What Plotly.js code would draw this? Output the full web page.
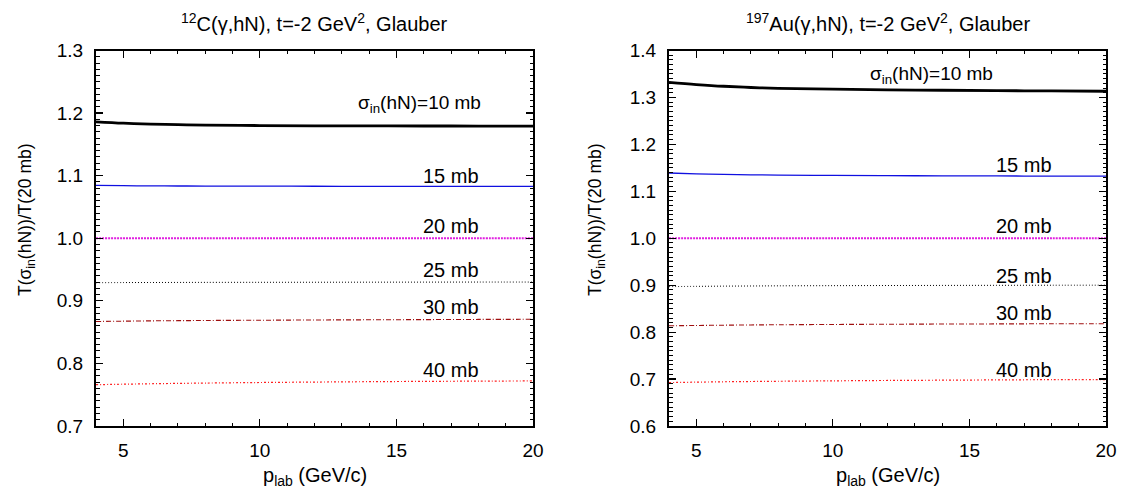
<!DOCTYPE html>
<html>
<head>
<meta charset="utf-8">
<script src="https://cdn.plot.ly/plotly-3.0.1.min.js"></script>
<style>html,body{margin:0;padding:0;background:#fff}#plot{width:1123px;height:491px}</style>
</head>
<body>
<div id="plot"></div>
<script>
// p_lab grid (GeV/c)
const pLab = [4, 5, 6, 7, 8, 10, 12, 14, 16, 18, 20];

// 12C panel: T(sigma_in)/T(20 mb)
const c12_10mb = [1.186, 1.1838, 1.1824, 1.1814, 1.1808, 1.1801, 1.1797, 1.1795, 1.1794, 1.1793, 1.1792];
const c12_15mb = [1.0845, 1.0840, 1.0837, 1.0835, 1.0834, 1.0832, 1.0831, 1.0830, 1.0829, 1.0828, 1.0828];
const c12_20mb = [1.0, 1.0, 1.0, 1.0, 1.0, 1.0, 1.0, 1.0, 1.0, 1.0, 1.0];
const c12_25mb = [0.929, 0.9292, 0.9293, 0.9294, 0.9295, 0.9296, 0.9297, 0.9298, 0.9299, 0.9300, 0.9300];
const c12_30mb = [0.867, 0.8675, 0.8680, 0.8683, 0.8686, 0.8690, 0.8694, 0.8697, 0.8700, 0.8703, 0.8705];
const c12_40mb = [0.766, 0.7668, 0.7675, 0.7681, 0.7686, 0.7695, 0.7702, 0.7708, 0.7713, 0.7717, 0.772];

// 197Au panel
const au_10mb = [1.332, 1.3275, 1.3238, 1.3212, 1.3195, 1.3175, 1.3162, 1.3153, 1.3145, 1.3138, 1.3132];
const au_15mb = [1.139, 1.1372, 1.1360, 1.1352, 1.1346, 1.1339, 1.1334, 1.1330, 1.1327, 1.1324, 1.1322];
const au_20mb = [1.0, 1.0, 1.0, 1.0, 1.0, 1.0, 1.0, 1.0, 1.0, 1.0, 1.0];
const au_25mb = [0.897, 0.8975, 0.8980, 0.8983, 0.8986, 0.8990, 0.8993, 0.8995, 0.8997, 0.8999, 0.900];
const au_30mb = [0.8135, 0.8142, 0.8148, 0.8153, 0.8157, 0.8163, 0.8168, 0.8172, 0.8175, 0.8178, 0.818];
const au_40mb = [0.6925, 0.6934, 0.6942, 0.6948, 0.6953, 0.6962, 0.6970, 0.6976, 0.6982, 0.6987, 0.699];

// label texts
const curveLabels = ['σ<sub>in</sub>(hN)=10 mb', '15 mb', '20 mb', '25 mb', '30 mb', '40 mb'];
const panelTitles = ['<sup>12</sup>C(γ,hN), t=-2 GeV<sup>2</sup>, Glauber',
                     '<sup>197</sup>Au(γ,hN), t=-2 GeV<sup>2</sup>, Glauber'];
const xTitle = 'p<sub>lab</sub> (GeV/c)';
const yTitle = 'T(σ<sub>in</sub>(hN))/T(20 mb)';

const styles = [
  {color: '#000000', width: 2.8, dash: 'solid'},
  {color: '#1010e0', width: 1.3, dash: 'solid'},
  {color: '#e020e0', width: 2, dash: '2px,1px'},
  {color: '#000000', width: 1, dash: '1px,2px'},
  {color: '#a01010', width: 1.1, dash: '5px,2px,1px,2px'},
  {color: '#ff2020', width: 1.2, dash: '2px,2px,1px,2px'}
];

const c12 = [c12_10mb, c12_15mb, c12_20mb, c12_25mb, c12_30mb, c12_40mb];
const au = [au_10mb, au_15mb, au_20mb, au_25mb, au_30mb, au_40mb];

const traces = [];
c12.forEach((ys, i) => traces.push({x: pLab, y: ys, mode: 'lines', line: Object.assign({shape: 'spline'}, styles[i]), xaxis: 'x', yaxis: 'y', showlegend: false, hoverinfo: 'skip'}));
au.forEach((ys, i) => traces.push({x: pLab, y: ys, mode: 'lines', line: Object.assign({shape: 'spline'}, styles[i]), xaxis: 'x2', yaxis: 'y2', showlegend: false, hoverinfo: 'skip'}));

const FONT = 'Liberation Sans, Arial, Helvetica, sans-serif';
const W = 1123, H = 491;
const x1d = [96 / W, 533 / W];
const x2d = [669 / W, 1106 / W];
const yd = [(H - 426) / H, (H - 50.5) / H];

function xAxis(domain, anchor) {
  return {
    domain: domain, anchor: anchor, range: [4, 20], tickvals: [5, 10, 15, 20],
    ticks: 'inside', ticklen: 7, tickwidth: 1.2, tickcolor: '#000', ticklabelstandoff: 6,
    minor: {dtick: 1, tick0: 0, ticks: 'inside', ticklen: 3.5, tickwidth: 1, tickcolor: '#000', showgrid: false},
    showline: true, linecolor: '#000', linewidth: 2, mirror: 'allticks',
    showgrid: false, zeroline: false, tickfont: {family: FONT, size: 19, color: '#000'}
  };
}
function yAxis(domain, anchor, range, tickvals, ticktext) {
  return {
    domain: domain, anchor: anchor, range: range, tickvals: tickvals, ticktext: ticktext,
    ticks: 'inside', ticklen: 7, tickwidth: 1.2, tickcolor: '#000', ticklabelstandoff: 7,
    minor: {dtick: 0.01, tick0: 0, ticks: 'inside', ticklen: 3.5, tickwidth: 1, tickcolor: '#000', showgrid: false},
    showline: true, linecolor: '#000', linewidth: 2, mirror: 'allticks',
    showgrid: false, zeroline: false, tickfont: {family: FONT, size: 19, color: '#000'}
  };
}

const yt1 = [0.7, 0.8, 0.9, 1.0, 1.1, 1.2, 1.3];
const yt2 = [0.6, 0.7, 0.8, 0.9, 1.0, 1.1, 1.2, 1.3, 1.4];

// label anchor positions in data coords
const lab1x = [15.85, 17.0, 17.0, 17.0, 17.0, 17.0];
const lab1y = [1.214, 1.099, 1.019, 0.949, 0.890, 0.789];
const lab2x = [13.6, 17.0, 17.0, 17.0, 17.0, 17.0];
const lab2y = [1.348, 1.156, 1.027, 0.920, 0.8415, 0.720];

const annotations = [];
function ann(o) { annotations.push(Object.assign({showarrow: false, xanchor: 'center', yanchor: 'middle'}, o)); }
curveLabels.forEach((t, i) => {
  const sz = i === 0 ? 19 : 20;
  ann({text: t, x: lab1x[i], y: lab1y[i], xref: 'x', yref: 'y', font: {family: FONT, size: sz, color: '#000'}});
  ann({text: t, x: lab2x[i], y: lab2y[i], xref: 'x2', yref: 'y2', font: {family: FONT, size: sz, color: '#000'}});
});
ann({text: panelTitles[0], x: (x1d[0] + x1d[1]) / 2, y: 1 - 22 / H, xref: 'paper', yref: 'paper', font: {family: FONT, size: 20, color: '#000'}});
ann({text: panelTitles[1], x: (x2d[0] + x2d[1]) / 2, y: 1 - 22 / H, xref: 'paper', yref: 'paper', font: {family: FONT, size: 20, color: '#000'}});
ann({text: xTitle, x: (x1d[0] + x1d[1]) / 2, y: 1 - 476 / H, xref: 'paper', yref: 'paper', font: {family: FONT, size: 20, color: '#000'}});
ann({text: xTitle, x: (x2d[0] + x2d[1]) / 2, y: 1 - 476 / H, xref: 'paper', yref: 'paper', font: {family: FONT, size: 20, color: '#000'}});
ann({text: yTitle, x: 26 / W, y: 1 - 220 / H, xref: 'paper', yref: 'paper', textangle: -90, font: {family: FONT, size: 17.5, color: '#000'}});
ann({text: yTitle, x: 596 / W, y: 1 - 220 / H, xref: 'paper', yref: 'paper', textangle: -90, font: {family: FONT, size: 17.5, color: '#000'}});

const layout = {
  width: W, height: H,
  margin: {l: 0, r: 0, t: 0, b: 0},
  paper_bgcolor: '#fff', plot_bgcolor: '#fff',
  showlegend: false,
  xaxis: xAxis(x1d, 'y'),
  yaxis: yAxis(yd, 'x', [0.7, 1.3], yt1, yt1.map(v => v.toFixed(1))),
  xaxis2: xAxis(x2d, 'y2'),
  yaxis2: yAxis(yd, 'x2', [0.6, 1.4], yt2, yt2.map(v => v.toFixed(1))),
  annotations: annotations
};

Plotly.newPlot('plot', traces, layout, {displayModeBar: false, staticPlot: true});
</script>
</body>
</html>
